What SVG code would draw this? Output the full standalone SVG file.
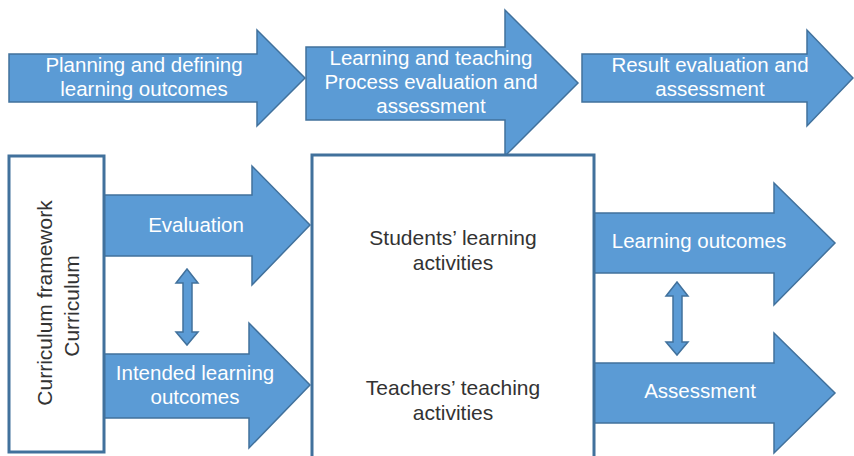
<svg xmlns="http://www.w3.org/2000/svg" width="854" height="456" viewBox="0 0 854 456">
<style>
.arr{fill:#5B9BD5;stroke:#41719C;stroke-width:1.5}
.box{fill:#fff;stroke:#41719C;stroke-width:3}
.wt{fill:#fff;font-family:"Liberation Sans",Arial,sans-serif;font-size:20.5px;text-anchor:middle}
.dt{fill:#333;font-family:"Liberation Sans",Arial,sans-serif;font-size:21px;text-anchor:middle}
</style>
<rect width="854" height="456" fill="#fff"/>
<g id="connectors">
<path class="arr" d="M183,283 H176 L187,269 L198,283 H192 V332 H198 L187,345 L176,332 H183 Z"/>
<path class="arr" d="M673,296 H666 L677,282 L688,296 H682 V342 H688 L677,355 L666,342 H673 Z"/>
</g>
<g id="planning">
<path class="arr" d="M9,54 H257 V30 L305,78 L257,126 V102 H9 Z"/>
<text class="wt" x="144" y="72">Planning and defining</text>
<text class="wt" x="144" y="96">learning outcomes</text>
</g>
<g id="process">
<path class="arr" d="M306,47 H505 V10 L578,83 L505,156 V120 H306 Z"/>
<text class="wt" x="431" y="65">Learning and teaching</text>
<text class="wt" x="431" y="89">Process evaluation and</text>
<text class="wt" x="431" y="113">assessment</text>
</g>
<g id="result">
<path class="arr" d="M582,54 H807 V30 L853,78 L807,126 V102 H582 Z"/>
<text class="wt" x="710" y="72">Result evaluation and</text>
<text class="wt" x="710" y="96">assessment</text>
</g>
<g id="evaluation">
<path class="arr" d="M104,195 H252 V166 L310,225 L252,285 V256 H104 Z"/>
<text class="wt" x="196" y="232">Evaluation</text>
</g>
<g id="intended">
<path class="arr" d="M104,354 H249 V323 L310,385 L249,448 V418 H104 Z"/>
<text class="wt" x="195" y="380">Intended learning</text>
<text class="wt" x="195" y="404">outcomes</text>
</g>
<g id="learning-outcomes">
<path class="arr" d="M594,213 H774 V183 L835,243 L774,305 V273 H594 Z"/>
<text class="wt" x="699" y="248">Learning outcomes</text>
</g>
<g id="assessment">
<path class="arr" d="M594,363 H774 V333 L835,393 L774,453 V423 H594 Z"/>
<text class="wt" x="700" y="398">Assessment</text>
</g>
<g id="curriculum">
<rect class="box" x="9" y="156" width="95" height="296"/>
<text class="dt" transform="translate(52,303) rotate(-90)">Curriculum framework</text>
<text class="dt" transform="translate(79,306) rotate(-90)">Curriculum</text>
</g>
<g id="activities">
<rect class="box" x="312" y="155" width="282" height="320"/>
<text class="dt" x="453" y="245">Students’ learning</text>
<text class="dt" x="453" y="270">activities</text>
<text class="dt" x="453" y="395">Teachers’ teaching</text>
<text class="dt" x="453" y="420">activities</text>
</g>
</svg>
